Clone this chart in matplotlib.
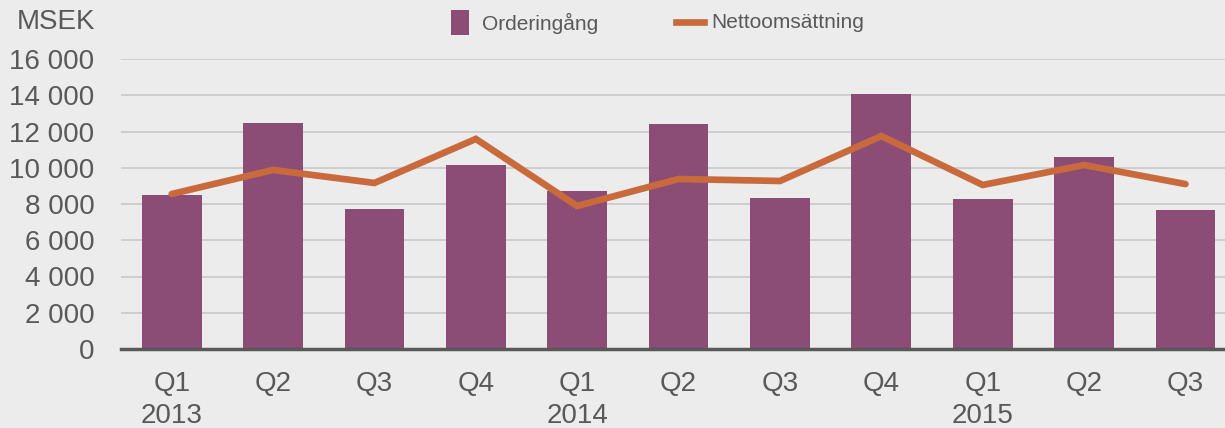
import matplotlib
matplotlib.use("Agg")
import matplotlib.pyplot as plt
from matplotlib.patches import Rectangle
from matplotlib.lines import Line2D
from matplotlib import font_manager

quarters = ["Q1", "Q2", "Q3", "Q4", "Q1", "Q2", "Q3", "Q4", "Q1", "Q2", "Q3"]
years = ["2013", "", "", "", "2014", "", "", "", "2015", "", ""]
orderingang = [8500, 12470, 7700, 10150, 8720, 12410, 8330, 14070, 8280, 10590, 7670]
nettoomsattning = [8550, 9880, 9160, 11590, 7890, 9380, 9270, 11750, 9050, 10150, 9100]
yticks = [0, 2000, 4000, 6000, 8000, 10000, 12000, 14000, 16000]
ytick_labels = ["0", "2 000", "4 000", "6 000", "8 000", "10 000", "12 000", "14 000", "16 000"]

bg = "#ECECEC"
bar_c = "#8B4D76"
line_c = "#C96A3D"
txt_c = "#595959"
fs = 20
plt.rcParams["font.family"] = ["Liberation Sans", "DejaVu Sans"]

names = {f.name for f in font_manager.fontManager.ttflist}
if "Liberation Sans Narrow" in names:
    leg_family, leg_fs = ["Liberation Sans Narrow", "DejaVu Sans"], 18.5
else:
    leg_family, leg_fs = ["Liberation Sans", "DejaVu Sans"], 15

W, H = 1225, 428
fig = plt.figure(figsize=(W / 100, H / 100), dpi=100, facecolor=bg)
ax = fig.add_axes([121 / W, 1 - 349 / H, 1 - 121 / W, (349 - 59) / H])
ax.set_facecolor(bg)

x = list(range(len(quarters)))
ax.bar(x, orderingang, width=0.59, color=bar_c, zorder=2)
ax.plot(x, nettoomsattning, color=line_c, lw=4.8, zorder=3, solid_joinstyle="miter", solid_capstyle="round")

ax.set_xlim(-0.5, 10.39)
ax.set_ylim(0, 16000)
ax.set_yticks(yticks)
ax.set_yticklabels(ytick_labels)
ax.yaxis.grid(True, color="#C8C8C8", lw=1.2, zorder=0)
ax.set_axisbelow(True)
for s in ["top", "right", "left"]:
    ax.spines[s].set_visible(False)
ax.spines["bottom"].set_color(txt_c)
ax.spines["bottom"].set_linewidth(2.5)
ax.spines["bottom"].set_zorder(4)
ax.tick_params(axis="y", length=0, pad=19, labelsize=fs, labelcolor=txt_c)
ax.set_xticks(x)
ax.set_xticklabels([q + "\n" + y for q, y in zip(quarters, years)], linespacing=1.3)
ax.tick_params(axis="x", length=0, pad=15.5, labelsize=fs, labelcolor=txt_c)

fig.text(95 / W, 1 - 22 / H, "MSEK", ha="right", va="center", fontsize=fs, color=txt_c)

# legend
fig.patches.append(Rectangle((451 / W, 1 - 35 / H), 18 / W, 25 / H, transform=fig.transFigure,
                             facecolor=bar_c, edgecolor="none"))
fig.text(482 / W, 1 - 23 / H, "Orderingång", ha="left", va="center", fontsize=leg_fs,
         color=txt_c, family=leg_family)
fig.lines.append(Line2D([676 / W, 704 / W], [1 - 22 / H, 1 - 22 / H], transform=fig.transFigure,
                        color=line_c, lw=4.8))
fig.text(711 / W, 1 - 23 / H, "Nettoomsättning", ha="left", va="center", fontsize=leg_fs,
         color=txt_c, family=leg_family)

fig.savefig("out.png", dpi=100, facecolor=bg)
